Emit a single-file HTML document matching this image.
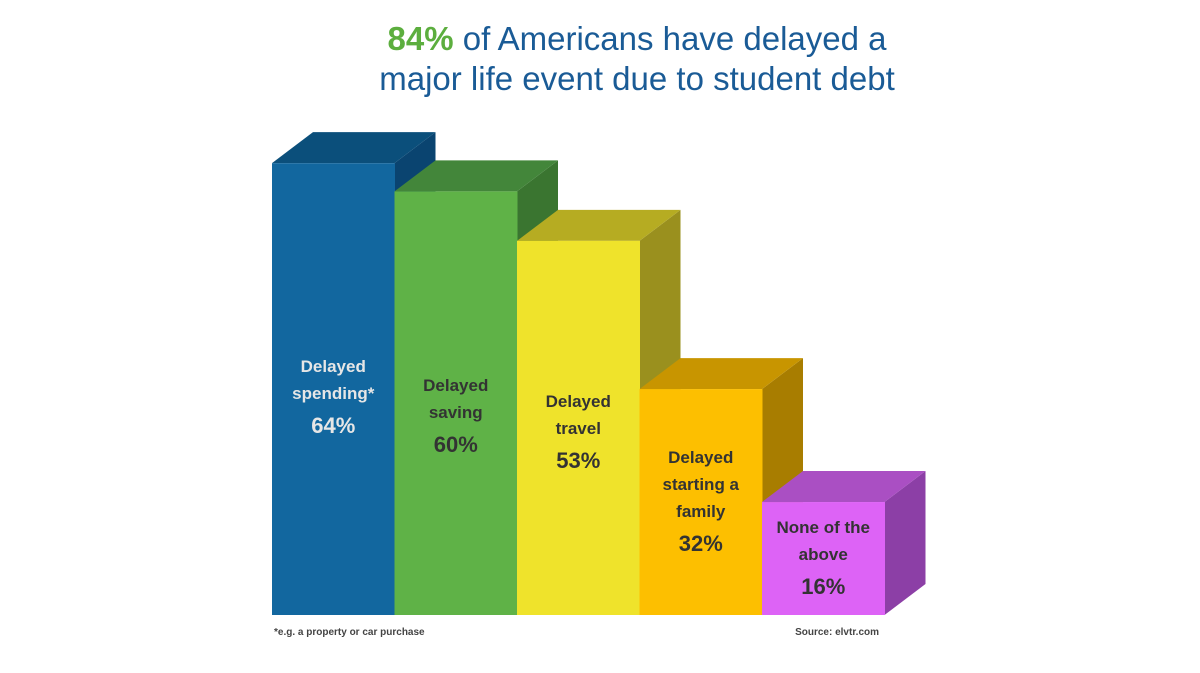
<!DOCTYPE html>
<html><head><meta charset="utf-8"><style>
html,body{margin:0;padding:0;background:#fff;width:1200px;height:673px;overflow:hidden;font-family:"Liberation Sans",sans-serif}
svg{display:block}
</style></head><body>
<svg id="chart" width="1200" height="673" viewBox="0 0 1200 673" xmlns="http://www.w3.org/2000/svg">
<text x="637" y="50" text-anchor="middle" font-size="33" fill="#1a5b96" font-family="Liberation Sans, sans-serif"><tspan fill="#5cae3e" font-weight="bold">84%</tspan> of Americans have delayed a</text>
<text x="637" y="90" text-anchor="middle" font-size="33" fill="#1a5b96" font-family="Liberation Sans, sans-serif">major life event due to student debt</text>
<g id="bars"></g>
<text x="274" y="635" font-size="10" font-weight="bold" fill="#444">*e.g. a property or car purchase</text>
<text x="879" y="635" text-anchor="end" font-size="10" font-weight="bold" fill="#444">Source: elvtr.com</text>
</svg>
<script>
const categories = [["Delayed","spending*"],["Delayed","saving"],["Delayed","travel"],["Delayed","starting a","family"],["None of the","above"]];
const values = [64,60,53,32,16];
const valueLabels = ["64%","60%","53%","32%","16%"];
const frontColors = ["#12679f","#5fb247","#efe32b","#fdbf00","#dd63f6"];
const topColors = ["#0b4f7b","#43863a","#b6ac22","#c89500","#aa4fc3"];
const sideColors = ["#0a4470","#3a7530","#9a901e","#a87d00","#8c3fa6"];
const textColors = ["#e6e6e6","#333","#333","#333","#333"];

const x0 = 272, barW = 122.5, baseY = 615, pxPer = 7.06, dx = 41, dy = -31;
const xPos = i => x0 + i * barW;
const yPos = v => baseY - v * pxPer;
const ns = "http://www.w3.org/2000/svg";
const g = document.getElementById("bars");
function mk(tag, attrs){const e=document.createElementNS(ns,tag);for(const k in attrs)e.setAttribute(k,attrs[k]);return e;}

values.forEach((v,i)=>{
  const xl = xPos(i), xr = xPos(i)+barW, yt = yPos(v);
  const side = mk("polygon",{points:`${xr},${yt} ${xr+dx},${yt+dy} ${xr+dx},${baseY+dy} ${xr},${baseY}`,fill:sideColors[i]});
  
  
  g.appendChild(side);
  const top = mk("polygon",{points:`${xl},${yt} ${xl+dx},${yt+dy} ${xr+dx},${yt+dy} ${xr},${yt}`,fill:topColors[i]});
  
  
  g.appendChild(top);
  const front = mk("rect",{x:xl,y:yt,width:barW+0.5,height:baseY-yt,fill:frontColors[i]});
  
  
  g.appendChild(front);
});
values.forEach((v,i)=>{
  const cx = xPos(i)+barW/2, yt = yPos(v);
  const lines = categories[i];
  let ly = yt + 208 - (i===4?95:0);
  if(i===0) ly = 372; if(i===1) ly = 391; if(i===2) ly = 407; if(i===3) ly = 463; if(i===4) ly = 533;
  lines.forEach((t,k)=>{
    const tx = mk("text",{x:cx,y:ly+k*27,"text-anchor":"middle","font-size":"17","font-weight":"bold",fill:textColors[i]});
    tx.textContent = t;
    
    
    g.appendChild(tx);
  });
  const pv = mk("text",{x:cx,y:ly+lines.length*27+7,"text-anchor":"middle","font-size":"22","font-weight":"bold",fill:textColors[i]});
  pv.textContent = valueLabels[i];
  
  
  g.appendChild(pv);
});
</script>
</body></html>
